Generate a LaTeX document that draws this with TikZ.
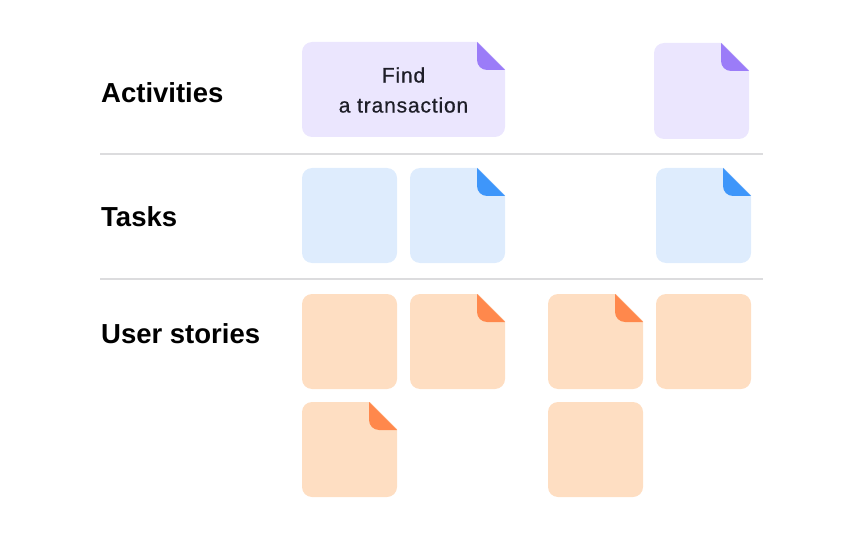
\documentclass[tikz,border=0pt]{standalone}
\usepackage{fontspec}
\setmainfont{Liberation Sans}
\newfontfamily\cardfont[FakeBold=0.6, LetterSpace=4]{Liberation Sans}

\definecolor{actlight}{RGB}{235,230,254}
\definecolor{actdark}{RGB}{155,124,248}
\definecolor{tasklight}{RGB}{222,236,253}
\definecolor{taskdark}{RGB}{62,150,250}
\definecolor{storylight}{RGB}{254,222,194}
\definecolor{storydark}{RGB}{255,136,76}
\definecolor{rulegray}{RGB}{220,220,222}
\definecolor{inkdark}{RGB}{30,30,40}

% card without fold: x, y, width, height, colour
\newcommand{\blankcard}[5]{%
  \fill[#5, rounded corners=10pt] (#1,#2) rectangle ++(#3,#4);}
% card with folded corner: x, y, width, height, colour, fold colour
\newcommand{\foldcard}[6]{%
  \fill[#5, rounded corners=10pt] (#1,#2) rectangle ++(#3,#4);
  \fill[white] ({#1+#3-28},{#2-1}) -- ({#1+#3+1},{#2-1}) -- ({#1+#3+1},{#2+28}) -- cycle;
  \fill[#6] ({#1+#3-28},#2) -- ({#1+#3-28},{#2+18})
    .. controls ({#1+#3-28},{#2+23.5}) and ({#1+#3-23.5},{#2+28}) .. ({#1+#3-18},{#2+28})
    -- ({#1+#3},{#2+28}) -- cycle;}

\begin{document}
\begin{tikzpicture}[x=1pt, y=-1pt,
    rowlabel/.style={anchor=base west, inner sep=0pt, font=\fontsize{27.5}{33}\selectfont\bfseries},
    divider/.style={draw=rulegray, line width=1.5pt}]
    \useasboundingbox (0,0) rectangle (864,540);

    \coordinate (r01) at (100,154);
    \coordinate (r02) at (763,154);
    \coordinate (r03) at (100,279);
    \coordinate (r04) at (763,279);

    \draw[divider] (r01) -- (r02);
    \draw[divider] (r03) -- (r04);

    % activities
    \foldcard{302}{42}{203}{95}{actlight}{actdark}
    \foldcard{654}{43}{95}{96}{actlight}{actdark}

    % tasks
    \blankcard{302}{168}{95}{95}{tasklight}
    \foreach \x in {410, 656}
        \foldcard{\x}{168}{95}{95}{tasklight}{taskdark};

    % user stories
    \foreach \x/\y in {302/294, 656/294, 548/402}
        \blankcard{\x}{\y}{95}{95}{storylight};
    \foreach \x/\y in {410/294, 548/294, 302/402}
        \foldcard{\x}{\y}{95}{95}{storylight}{storydark};

    \node[rowlabel] (activities) at (101,103) {Activities};
    \node[rowlabel] (tasks)      at (101,226) {Tasks};
    \node[rowlabel] (stories)    at (101,343) {User stories};

    \node[align=center, text=inkdark, font=\cardfont\fontsize{21}{30}\selectfont] (find) at (403.5,90) {Find\\a transaction};
\end{tikzpicture}
\end{document}
